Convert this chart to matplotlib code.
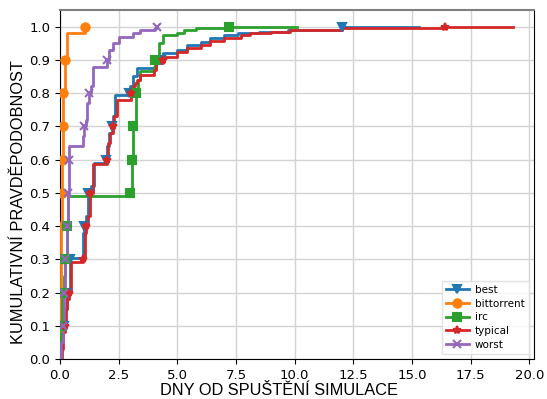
import numpy as np
import matplotlib
matplotlib.use("Agg")
import matplotlib.pyplot as plt

# ---- data (step breakpoints: level y holds from x onward) ----
best_x = [0.0, 0.05, 0.1, 0.15, 0.2, 0.28, 0.43, 1.0, 1.02, 1.1, 1.2, 1.3, 1.45, 1.95, 2.0, 2.1, 2.2, 2.25, 2.35,
          2.95, 3.0, 3.1, 3.3, 4.0, 4.1, 4.3, 4.4, 5.0, 5.4, 6.0, 6.4, 7.0, 7.6, 8.5, 9.7, 12.0, 15.3]
best_y = [0.0, 0.05, 0.08, 0.1, 0.15, 0.2, 0.305, 0.38, 0.4, 0.43, 0.5, 0.52, 0.59, 0.6, 0.64, 0.68, 0.7, 0.73, 0.795,
          0.8, 0.82, 0.85, 0.875, 0.88, 0.89, 0.9, 0.92, 0.93, 0.945, 0.955, 0.965, 0.975, 0.98, 0.985, 0.99, 1.0, 1.0]
bt_x = [0.0, 0.01, 0.02, 0.04, 0.05, 0.07, 0.08, 0.13, 0.14, 0.2, 0.28, 1.07]
bt_y = [0.05, 0.1, 0.2, 0.3, 0.4, 0.5, 0.6, 0.7, 0.8, 0.9, 0.98, 1.0]
irc_x = [0.0, 0.05, 0.1, 0.15, 0.2, 0.31, 0.34, 3.0, 3.05, 3.12, 3.25, 3.32, 3.4, 4.0, 4.05, 4.2, 4.4, 5.0, 5.3,
         5.8, 6.3, 7.2, 10.1]
irc_y = [0.0, 0.1, 0.2, 0.25, 0.3, 0.4, 0.49, 0.5, 0.6, 0.7, 0.8, 0.84, 0.865, 0.88, 0.9, 0.95, 0.975, 0.98, 0.99,
         0.995, 0.997, 1.0, 1.0]
typ_x = [0.0, 0.08, 0.12, 0.2, 0.25, 0.3, 0.38, 0.45, 1.0, 1.05, 1.1, 1.2, 1.28, 1.4, 2.0, 2.05, 2.15, 2.25, 2.3,
         2.42, 3.02, 3.1, 3.2, 3.3, 3.42, 4.0, 4.1, 4.4, 5.0, 5.4, 6.0, 6.4, 7.0, 7.7, 8.1, 9.0, 9.8, 12.0, 16.4, 19.3]
typ_y = [0.0, 0.03, 0.08, 0.1, 0.15, 0.18, 0.2, 0.293, 0.3, 0.38, 0.4, 0.43, 0.5, 0.587, 0.6, 0.65, 0.68, 0.7, 0.73,
         0.78, 0.8, 0.82, 0.83, 0.84, 0.855, 0.87, 0.89, 0.91, 0.925, 0.936, 0.945, 0.956, 0.965, 0.975, 0.98,
         0.985, 0.99, 0.995, 1.0, 1.0]
worst_x = [0.0, 0.05, 0.13, 0.15, 0.17, 0.2, 0.28, 0.35, 0.4, 1.0, 1.03, 1.1, 1.15, 1.22, 1.3, 1.42, 2.02, 2.1,
           2.25, 2.5, 3.1, 3.4, 4.05, 4.12, 4.15]
worst_y = [0.0, 0.05, 0.1, 0.15, 0.2, 0.3, 0.4, 0.5, 0.64, 0.67, 0.7, 0.72, 0.77, 0.8, 0.82, 0.88, 0.9, 0.93,
           0.95, 0.97, 0.98, 0.99, 0.995, 1.0, 1.0]

labels = ["best", "bittorrent", "irc", "typical", "worst"]
markers = ["v", "o", "s", "*", "x"]
colors = ["#1f77b4", "#ff7f0e", "#2ca02c", "#d62728", "#9467bd"]
series = [(best_x, best_y), (bt_x, bt_y), (irc_x, irc_y), (typ_x, typ_y), (worst_x, worst_y)]
levels = [0.1, 0.2, 0.3, 0.4, 0.5, 0.6, 0.7, 0.8, 0.9, 1.0]
xticks = [0.0, 2.5, 5.0, 7.5, 10.0, 12.5, 15.0, 17.5, 20.0]
yticks = [0.0, 0.1, 0.2, 0.3, 0.4, 0.5, 0.6, 0.7, 0.8, 0.9, 1.0]

fig = plt.figure(figsize=(5.47, 3.99), dpi=100)
ax = fig.add_axes([60/547, 40/399, 474/547, 349/399])

for (xs, ys), lab, mk, c in zip(series, labels, markers, colors):
    xs = np.asarray(xs); ys = np.asarray(ys)
    ax.plot(xs, ys, drawstyle="steps-post", color=c, lw=2, zorder=3)
    mx, my = [], []
    for q in levels:
        idx = np.nonzero(ys >= q - 1e-9)[0]
        if len(idx):
            mx.append(xs[idx[0]]); my.append(q)
    ax.plot(mx, my, linestyle="none", marker=mk, color=c, ms=6, mew=1.5, zorder=4)
    ax.plot([], [], color=c, lw=2, marker=mk, ms=6, mew=1.5, label=lab)

ax.set_xlim(0, 20.2)
ax.set_ylim(0, 1.05)
ax.set_xticks(xticks)
ax.set_yticks(yticks)
ax.tick_params(labelsize=9.5, length=3.5)
ax.grid(True, color="#d3d3d3", lw=1)
ax.set_axisbelow(True)
ax.spines["top"].set_color("#808080")
ax.spines["top"].set_linewidth(1.5)

ax.set_xlabel("DNY OD SPUŠTĚNÍ SIMULACE", labelpad=1,
              family=["Liberation Sans", "DejaVu Sans"], fontsize=11.8)
ax.set_ylabel("KUMULATIVNÍ PRAVDĚPODOBNOST", labelpad=2,
              family=["Liberation Sans", "DejaVu Sans"], fontsize=11.8)
ax.xaxis.label.set_x(0.463)
ax.yaxis.label.set_y(0.45)

leg = ax.legend(loc="lower right", fontsize=7.5, handlelength=2.2, borderpad=0.4,
                labelspacing=0.35, handletextpad=0.6, framealpha=0.8, fancybox=False)
leg.get_frame().set_edgecolor("#dddddd")

fig.savefig("out.png", dpi=100)
